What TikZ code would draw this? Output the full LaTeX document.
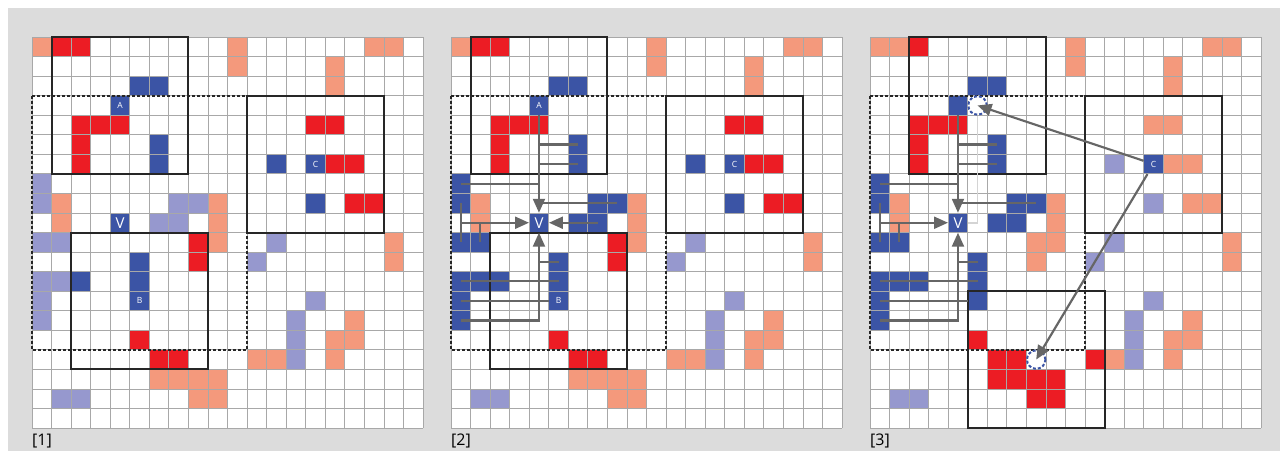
\documentclass[tikz,border=0pt]{standalone}
\usepackage{fontspec}
\setmainfont{Open Sans}
\usepackage{tikz}
\usetikzlibrary{arrows.meta}

\definecolor{board}{HTML}{DCDCDC}
\definecolor{gridgray}{HTML}{A8A8A8}
\definecolor{hot}{HTML}{EC1C24}
\definecolor{warm}{HTML}{F4997C}
\definecolor{deep}{HTML}{3B54A5}
\definecolor{pale}{HTML}{9698CE}
\definecolor{flowgray}{HTML}{666666}
\definecolor{ghostgray}{HTML}{D4D4D4}

\newcommand{\paintcells}[2]{\foreach \c/\r in {#2} {\fill[#1] (\c,\r) rectangle ++(1,1);}}
\newcommand{\drawgrid}{\foreach \i in {0,...,20} {\draw[cellgrid] (\i,0) -- (\i,20); \draw[cellgrid] (0,\i) -- (20,\i);}}

\begin{document}
\begin{tikzpicture}[
    x=1pt, y=-1pt,
    cellgrid/.style={draw=gridgray, line width=0.8pt},
    hood/.style={draw=black!85, line width=2pt},
    reach/.style={draw=black!85, line width=2pt, dash pattern=on 3pt off 2pt},
    agent/.style={
        rectangle,
        fill=deep,
        minimum size=19.55pt,
        inner sep=0pt,
        text=white,
        font=\fontsize{8.5}{9}\selectfont
    },
    bigagent/.style={agent, font=\fontsize{15}{16}\selectfont},
    slot/.style={
        circle,
        fill=white,
        draw=deep,
        line width=2pt,
        dash pattern=on 3pt off 2pt,
        minimum size=18.5pt,
        inner sep=0pt
    },
    link/.style={draw=flowgray, line width=2.2pt},
    flow/.style={link, -{Triangle[length=14pt,width=12pt]}},
    ghost/.style={draw=ghostgray, line width=1.8pt},
    tag/.style={anchor=base west, inner sep=0pt, font=\fontsize{16}{18}\selectfont}
]

\useasboundingbox (0,0) rectangle (1286,451);
\fill[white] (0,0) rectangle (1286,451);
\fill[board] (8,8) rectangle (1280,451);

% panel 1
\begin{scope}[shift={(32,37)}, x=19.55pt, y=-19.55pt]
\fill[white] (0,0) rectangle (20,20);
\paintcells{hot}{1/0,2/0,2/4,3/4,4/4,2/5,2/6,14/4,15/4,15/6,16/6,16/8,17/8,8/10,8/11,5/15,6/16,7/16}
\paintcells{warm}{0/0,10/0,10/1,17/0,18/0,15/1,15/2,1/8,1/9,9/8,9/9,9/10,18/10,18/11,16/14,15/15,16/15,11/16,12/16,15/16,6/17,7/17,8/17,9/17,8/18,9/18}
\paintcells{deep}{5/2,6/2,6/5,6/6,12/6,14/8,5/11,5/12,2/12}
\paintcells{pale}{0/7,0/8,7/8,8/8,6/9,7/9,0/10,1/10,12/10,11/11,0/12,1/12,0/13,0/14,14/13,13/14,13/15,13/16,1/18,2/18}
\node[agent]    (a1) at (4.5,3.5)  {A};
\node[agent]    (c1) at (14.5,6.5) {C};
\node[agent]    (b1) at (5.5,13.5) {B};
\node[bigagent] (v1) at (4.5,9.5)  {V};
\drawgrid
\draw[hood]  (1,0) rectangle (8,7);
\draw[hood]  (11,3) rectangle (18,10);
\draw[hood]  (2,10) rectangle (9,17);
\draw[reach] (0,3) rectangle (11,16);
\node[tag] (t1) at (0,20.92) {[1]};
\end{scope}

% panel 2
\begin{scope}[shift={(451,37)}, x=19.55pt, y=-19.55pt]
\fill[white] (0,0) rectangle (20,20);
\paintcells{hot}{1/0,2/0,2/4,3/4,4/4,2/5,2/6,14/4,15/4,15/6,16/6,16/8,17/8,8/10,8/11,5/15,6/16,7/16}
\paintcells{warm}{0/0,10/0,10/1,17/0,18/0,15/1,15/2,1/8,1/9,9/8,9/9,9/10,18/10,18/11,16/14,15/15,16/15,11/16,12/16,15/16,6/17,7/17,8/17,9/17,8/18,9/18}
\paintcells{deep}{5/2,6/2,6/5,6/6,12/6,14/8,5/11,5/12,2/12,0/7,0/8,7/8,8/8,6/9,7/9,0/10,1/10,0/12,1/12,0/13,0/14}
\paintcells{pale}{12/10,11/11,14/13,13/14,13/15,13/16,1/18,2/18}
\node[agent]    (a2) at (4.5,3.5)  {A};
\node[agent]    (c2) at (14.5,6.5) {C};
\node[agent]    (b2) at (5.5,13.5) {B};
\node[bigagent] (v2) at (4.5,9.5)  {V};
\drawgrid
\draw[hood]  (1,0) rectangle (8,7);
\draw[hood]  (11,3) rectangle (18,10);
\draw[hood]  (2,10) rectangle (9,17);
\draw[reach] (0,3) rectangle (11,16);
% sums into V
\draw[link] (6.5,5.5) -- (4.5,5.5);
\draw[link] (6.5,6.5) -- (4.5,6.5);
\draw[link] (0.5,7.5) -- (4.5,7.5);
\draw[link] (8.5,8.5) -- (4.5,8.5);
\draw[flow] (a2) -- (v2);
\draw[flow] (7.5,9.5) -- (v2);
\draw[link] (0.5,8.5) -- (0.5,10.5);
\draw[link] (1.5,9.5) -- (1.5,10.5);
\draw[flow] (0.5,9.5) -- (v2);
\draw[link] (5.5,11.5) -- (4.5,11.5);
\draw[link] (0.5,12.5) -- (5.5,12.5);
\draw[link] (0.5,13.5) -- (b2);
\draw[flow] (0.5,14.5) -- (4.5,14.5) -- (v2);
\node[tag] (t2) at (0,20.92) {[2]};
\end{scope}

% panel 3
\begin{scope}[shift={(870,37)}, x=19.55pt, y=-19.55pt]
\fill[white] (0,0) rectangle (20,20);
\paintcells{hot}{2/0,2/4,3/4,4/4,2/5,2/6,5/15,6/16,7/16,11/16,6/17,7/17,8/17,9/17,8/18,9/18}
\paintcells{warm}{0/0,1/0,10/0,10/1,17/0,18/0,15/1,15/2,14/4,15/4,15/6,16/6,1/8,1/9,9/8,9/9,9/10,8/10,8/11,16/8,17/8,18/10,18/11,16/14,15/15,16/15,12/16,15/16}
\paintcells{deep}{5/2,6/2,6/5,6/6,0/7,0/8,7/8,8/8,6/9,7/9,0/10,1/10,5/11,0/12,1/12,2/12,5/12,0/13,0/14}
\paintcells{pale}{12/6,14/8,12/10,11/11,14/13,13/14,13/15,13/16,1/18,2/18}
\node[agent]    (a3) at (4.5,3.5)  {};
\node[agent]    (c3) at (14.5,6.5) {C};
\node[agent]    (b3) at (5.5,13.5) {};
\node[bigagent] (v3) at (4.5,9.5)  {V};
\drawgrid
\draw[hood]  (2,0) rectangle (9,7);
\draw[hood]  (11,3) rectangle (18,10);
\draw[hood]  (5,13) rectangle (12,20);
\draw[reach] (0,3) rectangle (11,16);
\node[slot] (s3a) at (5.5,3.5)  {};
\node[slot] (s3b) at (8.5,16.5) {};
% sums into V
\draw[ghost] (s3a.south) -- (5.5,9.5) -- (v3);
\draw[link] (6.5,5.5) -- (4.5,5.5);
\draw[link] (6.5,6.5) -- (4.5,6.5);
\draw[link] (0.5,7.5) -- (4.5,7.5);
\draw[link] (8.5,8.5) -- (4.5,8.5);
\draw[flow] (a3) -- (v3);
\draw[link] (0.5,8.5) -- (0.5,10.5);
\draw[link] (1.5,9.5) -- (1.5,10.5);
\draw[flow] (0.5,9.5) -- (v3);
\draw[link] (5.5,11.5) -- (4.5,11.5);
\draw[link] (0.5,12.5) -- (5.5,12.5);
\draw[link] (0.5,13.5) -- (b3);
\draw[flow] (0.5,14.5) -- (4.5,14.5) -- (v3);
% C jumps
\draw[flow] (c3) -- (s3a.center);
\draw[flow] (c3) -- (s3b.center);
\node[tag] (t3) at (0,20.92) {[3]};
\end{scope}

\end{tikzpicture}
\end{document}
